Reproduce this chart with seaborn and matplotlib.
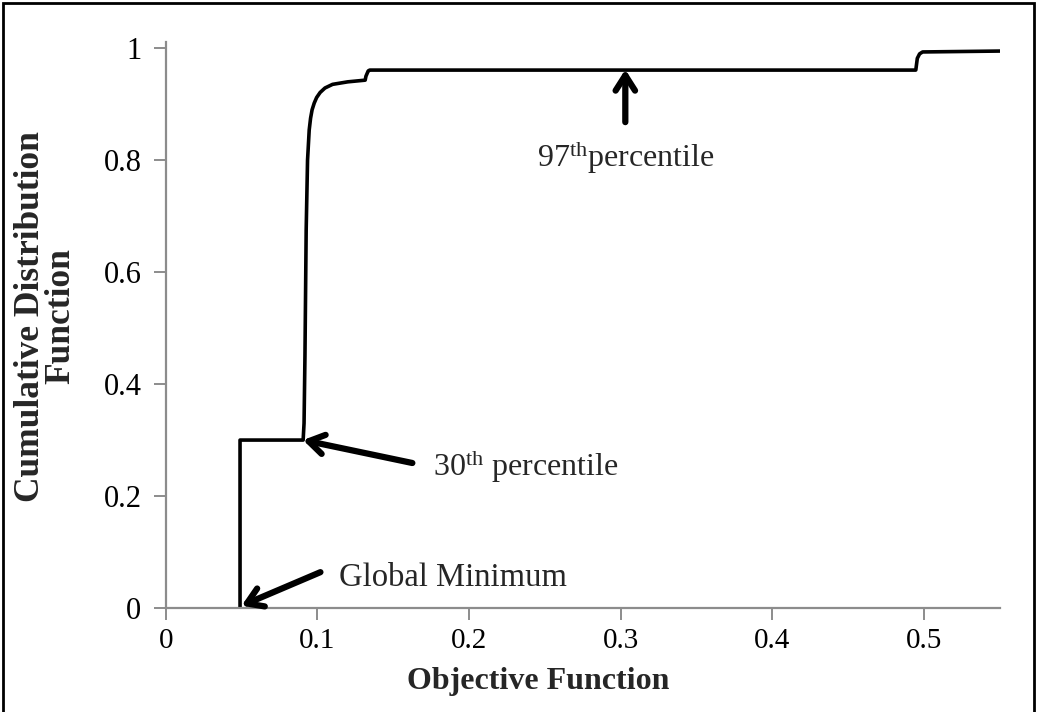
import matplotlib
matplotlib.use("Agg")
import matplotlib.pyplot as plt
import seaborn as sns
import pandas as pd
from matplotlib.patches import Rectangle

# ---- data ----
objective = [0.049, 0.049, 0.0906, 0.0912, 0.0918, 0.0926, 0.0935, 0.0946,
             0.0955, 0.0965, 0.0979, 0.0995, 0.1018, 0.1050, 0.110, 0.120,
             0.1315, 0.132, 0.1335, 0.1345, 0.4945, 0.4955, 0.4970, 0.499,
             0.55]
cdf = [0.0, 0.300, 0.300, 0.33, 0.45, 0.675, 0.80, 0.854,
       0.875, 0.89, 0.902, 0.912, 0.921, 0.929, 0.9355, 0.940,
       0.943, 0.950, 0.9595, 0.961, 0.961, 0.982, 0.990, 0.9934,
       0.995]
x_ticks = [0, 0.1, 0.2, 0.3, 0.4, 0.5]
x_tick_labels = ["0", "0.1", "0.2", "0.3", "0.4", "0.5"]
y_ticks = [0, 0.2, 0.4, 0.6, 0.8, 1.0]
y_tick_labels = ["0", "0.2", "0.4", "0.6", "0.8", "1"]

df = pd.DataFrame({"objective": objective, "cdf": cdf})

sns.set_style("white")
plt.rcParams["font.family"] = ["Liberation Serif", "DejaVu Serif"]
plt.rcParams["mathtext.fontset"] = "custom"
plt.rcParams["mathtext.rm"] = "Liberation Serif"
plt.rcParams["mathtext.it"] = "Liberation Serif:italic"
plt.rcParams["mathtext.bf"] = "Liberation Serif:bold"

fig = plt.figure(figsize=(10.37, 7.12), dpi=100)
ax = fig.add_axes([0.1598, 0.1461, 0.8045, 0.7954])

sns.lineplot(data=df, x="objective", y="cdf", sort=False, estimator=None,
             color="black", lw=2.6, ax=ax)
for ln in ax.lines:
    ln.set_solid_joinstyle("round")

ax.set_xlim(0, 0.55)
ax.set_ylim(0, 1.0118)
ax.set_xticks(x_ticks)
ax.set_xticklabels(x_tick_labels, fontsize=21)
ax.set_yticks(y_ticks)
ax.set_yticklabels(y_tick_labels, fontsize=22)

grey = "#8c8c8c"
for s in ["top", "right"]:
    ax.spines[s].set_visible(False)
for s in ["left", "bottom"]:
    ax.spines[s].set_color(grey)
    ax.spines[s].set_linewidth(1.6)
ax.tick_params(axis="both", direction="out", length=8.5, width=1.4,
               color=grey, labelcolor="black", bottom=True, left=True)
ax.tick_params(axis="y", pad=9)
ax.tick_params(axis="x", pad=6)

ax.set_xlabel("Objective Function", fontsize=23, fontweight="bold")
ax.xaxis.set_label_coords(0.446, -0.105)
ax.set_ylabel("Cumulative Distribution\nFunction", fontsize=25.5,
              fontweight="bold", linespacing=0.9)
ax.yaxis.set_label_coords(-0.106, 0.515)

arrow = dict(arrowstyle="->, head_length=1.1, head_width=0.7", lw=4.5,
             color="black", shrinkA=0, shrinkB=0)

ax.annotate("", xy=(0.303, 0.962), xytext=(0.303, 0.868), arrowprops=arrow)
ax.text(0.303, 0.804, "97$^{\\mathrm{th}}$percentile", fontsize=23,
        ha="center", va="center")

ax.annotate("", xy=(0.0905, 0.300), xytext=(0.1626, 0.259), arrowprops=arrow)
ax.text(0.176, 0.252, "30$^{\\mathrm{th}}$ percentile", fontsize=23,
        ha="left", va="center")

ax.annotate("", xy=(0.050, 0.004), xytext=(0.102, 0.064), arrowprops=arrow)
ax.text(0.1145, 0.054, "Global Minimum", fontsize=23.5, ha="left", va="center")

fig.patches.append(Rectangle((0.003, -0.01), 0.994, 1.006,
                             transform=fig.transFigure, fill=False,
                             edgecolor="black", lw=2))

fig.savefig("out.png", dpi=100)
